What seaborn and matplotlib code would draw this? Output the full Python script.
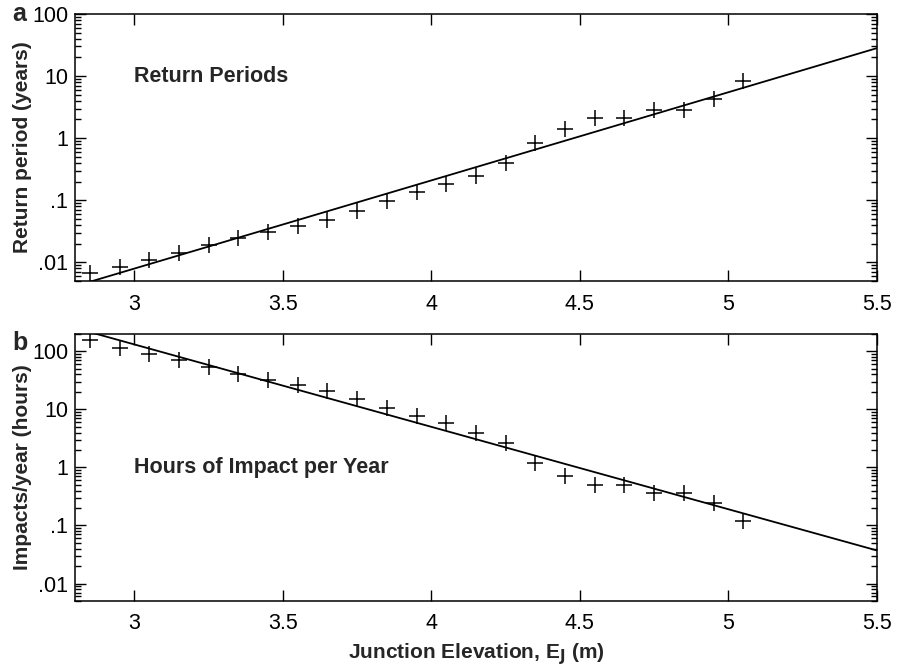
import matplotlib
matplotlib.use('Agg')
import matplotlib.pyplot as plt
from matplotlib.ticker import FixedLocator, FixedFormatter, LogLocator, NullFormatter, NullLocator
import numpy as np
import pandas as pd
import seaborn as sns

sns.set_style('ticks')
plt.rcParams['font.family'] = ['Liberation Sans', 'DejaVu Sans']

# junction elevation of the plotted points (m)
elevation = [2.85, 2.95, 3.05, 3.15, 3.25, 3.35, 3.45, 3.55, 3.65, 3.75, 3.85, 3.95,
             4.05, 4.15, 4.25, 4.35, 4.45, 4.55, 4.65, 4.75, 4.85, 4.95, 5.05]
return_period = [0.0068, 0.0085, 0.011, 0.014, 0.019, 0.025, 0.031, 0.038, 0.049, 0.066,
                 0.096, 0.135, 0.18, 0.25, 0.40, 0.83, 1.4, 2.1, 2.1, 2.8, 2.8, 4.3, 8.3]
impact_hours = [155, 115, 90, 71, 54, 40, 32, 26, 20.5, 15, 10.5, 7.7,
                5.8, 3.9, 2.6, 1.2, 0.72, 0.49, 0.49, 0.37, 0.37, 0.24, 0.12]

# log10-linear fits: log10(y) = intercept + slope * E
fit_return = (-6.36, 1.42)
fit_impact = (6.38, -1.42)
fit_range = (2.8, 5.5)

x_ticks = [3, 3.5, 4, 4.5, 5, 5.5]
x_labels = ['3', '3.5', '4', '4.5', '5', '5.5']
y_ticks = [0.01, 0.1, 1, 10, 100]
y_labels = ['.01', '.1', '1', '10', '100']


def draw_panel(ax, values, fit, ylim, ylabel, note, note_y, letter, letter_y):
    df = pd.DataFrame({'E': elevation, 'y': values})
    xs = np.linspace(*fit_range, 200)
    line = pd.DataFrame({'E': xs, 'y': 10 ** (fit[0] + fit[1] * xs)})
    sns.lineplot(data=line, x='E', y='y', ax=ax, color='black', linewidth=1.3)
    sns.scatterplot(data=df, x='E', y='y', ax=ax, marker='+', s=120,
                    color='black', linewidth=1.1)
    ax.set_yscale('log')
    ax.set_xlim(*fit_range)
    ax.set_ylim(*ylim)
    ax.xaxis.set_major_locator(FixedLocator(x_ticks))
    ax.xaxis.set_major_formatter(FixedFormatter(x_labels))
    ax.xaxis.set_minor_locator(NullLocator())
    ax.yaxis.set_major_locator(FixedLocator(y_ticks))
    ax.yaxis.set_major_formatter(FixedFormatter(y_labels))
    ax.yaxis.set_minor_locator(LogLocator(base=10, subs=np.arange(2, 10)))
    ax.yaxis.set_minor_formatter(NullFormatter())
    ax.tick_params(which='both', direction='in', top=True, right=True,
                   labelsize=15.5, width=1, colors='black')
    ax.tick_params(which='major', length=8)
    ax.tick_params(axis='x', which='major', pad=9)
    ax.tick_params(axis='y', which='major', pad=5)
    ax.tick_params(which='minor', length=4)
    for s in ax.spines.values():
        s.set_linewidth(1.1)
        s.set_color('black')
    ax.set_xlabel('')
    ax.set_ylabel(ylabel, fontsize=15, fontweight='bold')
    ax.yaxis.set_label_coords(-0.053, 0.5)
    ax.text(3.0, note_y, note, fontsize=15.5, fontweight='bold', va='center')
    ax.text(-0.078, letter_y, letter, transform=ax.transAxes, fontsize=18,
            fontweight='bold', va='baseline', ha='left')


fig = plt.figure(figsize=(8.98, 6.66), dpi=100)
ax_a = fig.add_axes([0.0835, 0.578, 0.893, 0.401])
ax_b = fig.add_axes([0.0835, 0.0976, 0.893, 0.401])

draw_panel(ax_a, return_period, fit_return, (0.005, 100),
           'Return period (years)', 'Return Periods', 10, 'a', 0.974)
draw_panel(ax_b, impact_hours, fit_impact, (0.005, 200),
           'Impacts/year (hours)', 'Hours of Impact per Year', 1, 'b', 0.94)

ax_b.set_xlabel('Junction Elevation, E$_\\mathbf{J}$ (m)', fontsize=15,
                fontweight='bold')
ax_b.xaxis.set_label_coords(0.5, -0.152)

fig.savefig('out.png', dpi=100)
